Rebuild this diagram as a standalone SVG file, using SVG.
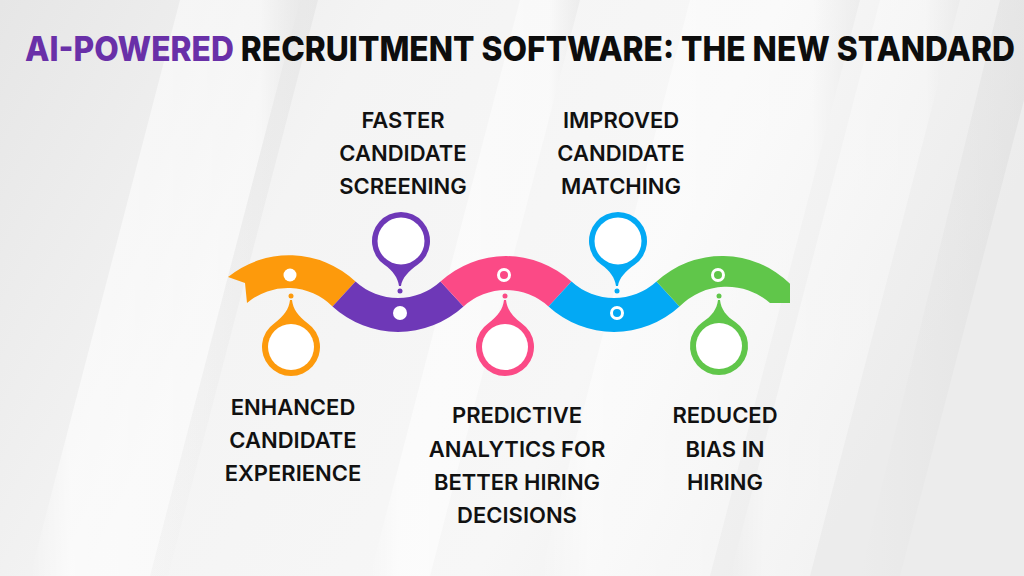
<svg xmlns="http://www.w3.org/2000/svg" width="1024" height="576" viewBox="0 0 1024 576">
  <defs>
    <linearGradient id="bg" x1="0" y1="0" x2="1" y2="0.3">
      <stop offset="0" stop-color="#e6e6e6"/>
      <stop offset="0.35" stop-color="#f4f4f4"/>
      <stop offset="0.7" stop-color="#f7f7f7"/>
      <stop offset="1" stop-color="#ececec"/>
    </linearGradient>
    <linearGradient id="streak" x1="0" y1="0" x2="1" y2="0">
      <stop offset="0" stop-color="#ffffff" stop-opacity="0"/>
      <stop offset="0.15" stop-color="#ffffff" stop-opacity="0.85"/>
      <stop offset="0.85" stop-color="#ffffff" stop-opacity="0.6"/>
      <stop offset="1" stop-color="#dcdcdc" stop-opacity="0.5"/>
    </linearGradient>
    <linearGradient id="shade" x1="0" y1="0" x2="1" y2="0">
      <stop offset="0" stop-color="#d8d8d8" stop-opacity="0"/>
      <stop offset="1" stop-color="#d8d8d8" stop-opacity="0.7"/>
    </linearGradient>
  </defs>
  <style>
    .lbl { font-family: Inter, "Liberation Sans", sans-serif; font-weight: 600; font-size: 22px; fill: #111111; text-anchor: middle; }
    .title { font-family: Inter, "Liberation Sans", sans-serif; font-weight: 800; font-size: 30px; fill: #0d0d0d; }
    .hole { fill: #ffffff; }
    .orange { fill: #fd9a0c; }
    .purple { fill: #6e38b7; }
    .pink { fill: #fb4a86; }
    .blue { fill: #03a9f4; }
    .green { fill: #60c64a; }
  </style>

  <!-- background -->
  <rect x="0" y="0" width="1024" height="576" fill="url(#bg)"/>
  <g id="background-streaks">
    <polygon points="180,0 300,0 150,576 30,576" fill="url(#streak)" opacity="0.7"/>
    <polygon points="300,0 318,0 168,576 150,576" fill="url(#shade)" opacity="0.5"/>
    <polygon points="520,0 580,0 430,576 370,576" fill="url(#streak)" opacity="0.7"/>
    <polygon points="690,0 860,0 710,576 540,576" fill="url(#streak)" opacity="0.6"/>
    <polygon points="880,0 960,0 810,576 730,576" fill="url(#streak)" opacity="0.5"/>
    <polygon points="1000,0 1024,0 1024,100 900,576 860,576" fill="url(#shade)" opacity="0.6"/>
  </g>

  <!-- title -->
  <g id="title" transform="scale(1,1.13)">
    <text class="title" x="25" y="54" textLength="990" lengthAdjust="spacingAndGlyphs"><tspan fill="#6930a8">AI-POWERED</tspan> RECRUITMENT SOFTWARE: THE NEW STANDARD</text>
  </g>

  <!-- ribbon (connectors) -->
  <g id="connectors">
    <path class="orange" d="M228,277 A97,97 0 0 1 355.5,281.5 L332.5,306.5 A63,63 0 0 0 247,303 L245,283 Z"/>
    <path class="purple" d="M355.5,281.5 A63,63 0 0 0 440.5,281.5 L463.5,306.5 A97,97 0 0 1 332.5,306.5 Z"/>
    <path class="pink" d="M440.5,281.5 A97,97 0 0 1 571.5,281.5 L548.5,306.5 A63,63 0 0 0 463.5,306.5 Z"/>
    <path class="blue" d="M571.5,281.5 A63,63 0 0 0 656.5,281.5 L679.5,306.5 A97,97 0 0 1 548.5,306.5 Z"/>
    <path class="green" d="M656.5,281.5 A97,97 0 0 1 790,283.8 L790,303 L770,303 A66,66 0 0 0 679.5,306.5 Z"/>
  </g>

  <!-- node 1: orange, bottom -->
  <g id="node-enhanced-experience">
    <circle class="hole" cx="290" cy="275" r="6.5"/>
    <circle class="orange" cx="291" cy="296" r="2.5"/>
    <path class="orange" d="M290,300 L292,300 C293,309 298,316 307.6,323.2 A29,29 0 1 1 274.4,323.2 C284,316 289,309 290,300 Z"/>
    <circle class="hole" cx="291" cy="347" r="23"/>
    <text class="lbl" x="293" y="415">ENHANCED</text>
    <text class="lbl" x="293" y="448">CANDIDATE</text>
    <text class="lbl" x="293" y="481">EXPERIENCE</text>
  </g>

  <!-- node 2: purple, top -->
  <g id="node-faster-screening">
    <circle class="hole" cx="400" cy="313" r="7"/>
    <circle class="purple" cx="400" cy="291" r="2.5"/>
    <path class="purple" d="M401,286 L399,286 C398,278 393,271 384.4,264.8 A29,29 0 1 1 417.6,264.8 C409,271 402,278 401,286 Z"/>
    <circle class="hole" cx="401" cy="241" r="23.5"/>
    <text class="lbl" x="403" y="128">FASTER</text>
    <text class="lbl" x="403" y="161">CANDIDATE</text>
    <text class="lbl" x="403" y="194">SCREENING</text>
  </g>

  <!-- node 3: pink, bottom -->
  <g id="node-predictive-analytics">
    <circle cx="504" cy="275" r="5.5" fill="none" stroke="#ffffff" stroke-width="3"/>
    <circle class="pink" cx="505" cy="296" r="2.5"/>
    <path class="pink" d="M504,300 L506,300 C507,309 512,316 521.6,323.2 A29,29 0 1 1 488.4,323.2 C498,316 503,309 504,300 Z"/>
    <circle class="hole" cx="505" cy="347" r="23"/>
    <text class="lbl" x="517" y="423">PREDICTIVE</text>
    <text class="lbl" x="517" y="457">ANALYTICS FOR</text>
    <text class="lbl" x="517" y="490">BETTER HIRING</text>
    <text class="lbl" x="517" y="523">DECISIONS</text>
  </g>

  <!-- node 4: blue, top -->
  <g id="node-improved-matching">
    <circle cx="617" cy="313" r="5.5" fill="none" stroke="#ffffff" stroke-width="3"/>
    <circle class="blue" cx="617" cy="291" r="2.5"/>
    <path class="blue" d="M618,286 L616,286 C615,278 610,271 601.4,264.8 A29,29 0 1 1 634.6,264.8 C626,271 619,278 618,286 Z"/>
    <circle class="hole" cx="618" cy="241" r="23.5"/>
    <text class="lbl" x="621" y="128">IMPROVED</text>
    <text class="lbl" x="621" y="161">CANDIDATE</text>
    <text class="lbl" x="621" y="194">MATCHING</text>
  </g>

  <!-- node 5: green, bottom -->
  <g id="node-reduced-bias">
    <circle cx="718" cy="275" r="5.5" fill="none" stroke="#ffffff" stroke-width="3"/>
    <circle class="green" cx="719" cy="296" r="2.5"/>
    <path class="green" d="M718,300 L720,300 C721,309 726,316 735.6,322.2 A29,29 0 1 1 702.4,322.2 C712,316 717,309 718,300 Z"/>
    <circle class="hole" cx="719" cy="346" r="23"/>
    <text class="lbl" x="725" y="423">REDUCED</text>
    <text class="lbl" x="725" y="457">BIAS IN</text>
    <text class="lbl" x="725" y="490">HIRING</text>
  </g>
</svg>
